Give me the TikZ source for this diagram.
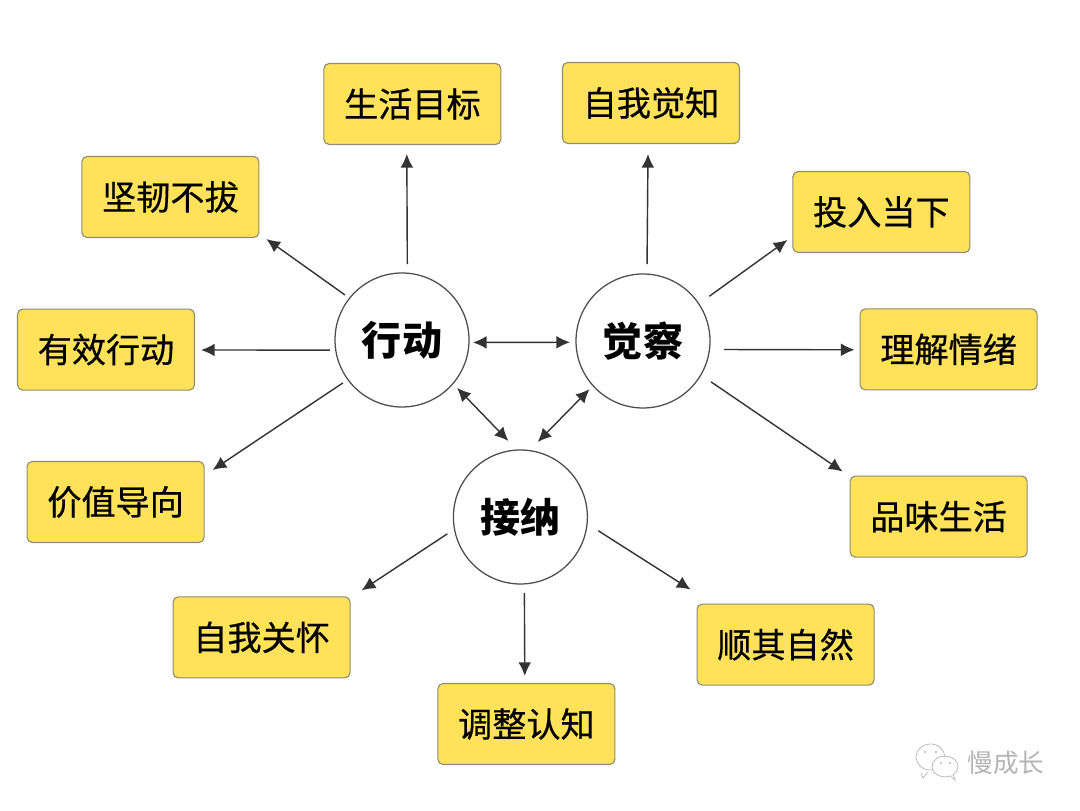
\documentclass[tikz,border=0pt]{standalone}
\usepackage{fontspec}
\setmainfont{Noto Sans CJK SC}
\newfontfamily\boxfont[FakeBold=0.5]{Noto Sans CJK SC}
\usetikzlibrary{arrows.meta,positioning}
\definecolor{boxyellow}{HTML}{FFE15A}
\definecolor{boxedge}{HTML}{8F8C70}
\definecolor{linkgray}{HTML}{333333}
\definecolor{hubedge}{HTML}{4D4D4D}
\definecolor{markgray}{HTML}{B4B4B4}
\tikzset{
  box/.style={draw=boxedge, thick, fill=boxyellow, rounded corners=1.3mm, align=center, font=\boxfont\fontsize{24.3}{27}\selectfont, text=black, inner sep=0pt, minimum width=44.25mm, minimum height=20.25mm},
  hub/.style={draw=hubedge, line width=0.9pt, circle, fill=white, font=\fontsize{28.5}{32}\selectfont\bfseries, inner sep=0pt, minimum size=33.5mm},
  arrow/.style={-{Latex[length=3.4mm,width=3.2mm]}, line width=1pt, draw=linkgray},
  both/.style={{Latex[length=3.4mm,width=3.2mm]}-{Latex[length=3.4mm,width=3.2mm]}, line width=1pt, draw=linkgray},
  brandline/.style={draw=markgray, line width=0.5pt, fill=white}
}
\begin{document}
\begin{tikzpicture}[on grid]
\useasboundingbox (0,0) rectangle (27,20.275);
\node[hub] (act) at (10.05,11.775) {行动};
\node[hub, right=60.25mm of act, yshift=-0.25mm] (aware) {觉察};
\node[hub, below right=44.25mm and 29.6mm of act] (accept) {接纳};

\node[box, above right=59mm and 2.6mm of act] (goal) {生活目标};
\node[box, above left=35.75mm and 57.9mm of act] (grit) {坚韧不拔};
\node[box, below left=2.4mm and 74mm of act] (doing) {有效行动};
\node[box, below left=40.5mm and 71.6mm of act] (value) {价值导向};

\node[box, above right=59.5mm and 2mm of aware] (self) {自我觉知};
\node[box, above right=32.25mm and 59.6mm of aware] (present) {投入当下};
\node[box, below right=2.1mm and 76.4mm of aware] (emotion) {理解情绪};
\node[box, below right=43.9mm and 73.9mm of aware] (savor) {品味生活};

\node[box, below left=30.1mm and 64.7mm of accept] (care) {自我关怀};
\node[box, below right=51.75mm and 1.5mm of accept] (think) {调整认知};
\node[box, below right=31.9mm and 66.3mm of accept] (nature) {顺其自然};

\draw[arrow] ([shift={(86:19mm)}]act.center) -- ([shift={(-1.4mm,-2.25mm)}]goal.south);
\draw[arrow] ([shift={(141.7:18.15mm)}]act.center) -- ([shift={(1.75mm,-.25mm)}]grit.south east);
\draw[arrow] ([shift={(188:18.2mm)}]act.center) -- ([shift={(1.5mm,-.1mm)}]doing.east);
\draw[arrow] ([shift={(216:18.25mm)}]act.center) -- ([shift={(2mm,-2.25mm)}]value.north east);

\draw[arrow] ([shift={(87:19.25mm)}]aware.center) -- ([shift={(-.75mm,-2.5mm)}]self.south);
\draw[arrow] ([shift={(34:20mm)}]aware.center) -- ([shift={(-1.25mm,3.25mm)}]present.south west);
\draw[arrow] ([shift={(354:20.4mm)}]aware.center) -- ([shift={(-1.25mm,-.1mm)}]emotion.west);
\draw[arrow] ([shift={(329:19.85mm)}]aware.center) -- ([shift={(-1.75mm,1mm)}]savor.north west);

\draw[arrow] ([shift={(193:18.75mm)}]accept.center) -- ([shift={(2.75mm,1.5mm)}]care.north east);
\draw[arrow] ([shift={(273:19mm)}]accept.center) -- ([shift={(-.4mm,1.75mm)}]think.north);
\draw[arrow] ([shift={(350:19.75mm)}]accept.center) -- ([shift={(-1.5mm,3.5mm)}]nature.north west);

\draw[both] ([shift={(358:17.75mm)}]act.center) -- ([shift={(181:18.25mm)}]aware.center);
\draw[both] ([shift={(319:18.25mm)}]act.center) -- ([shift={(99:19.25mm)}]accept.center);
\draw[both] ([shift={(222:18mm)}]aware.center) -- ([shift={(77:19.25mm)}]accept.center);

% watermark in the corner
\draw[brandline] (23.26,1.35) ellipse (.36 and .325);
\draw[brandline] (23.025,.95) -- (23.075,.825) -- (23.2,.975);
\draw[brandline] (23.625,1.1125) ellipse (.325 and .26);
\draw[brandline] (23.75,.875) -- (23.875,.775) -- (23.825,.925);
\fill[markgray] (23.125,1.475) circle (.03) (23.4,1.475) circle (.03);
\fill[markgray] (23.525,1.2) circle (.03) (23.75,1.2) circle (.03);
\node[text=markgray, font=\fontsize{18.2}{20}\selectfont] (brand) at (25.15,1.2) {慢成长};
\end{tikzpicture}
\end{document}
